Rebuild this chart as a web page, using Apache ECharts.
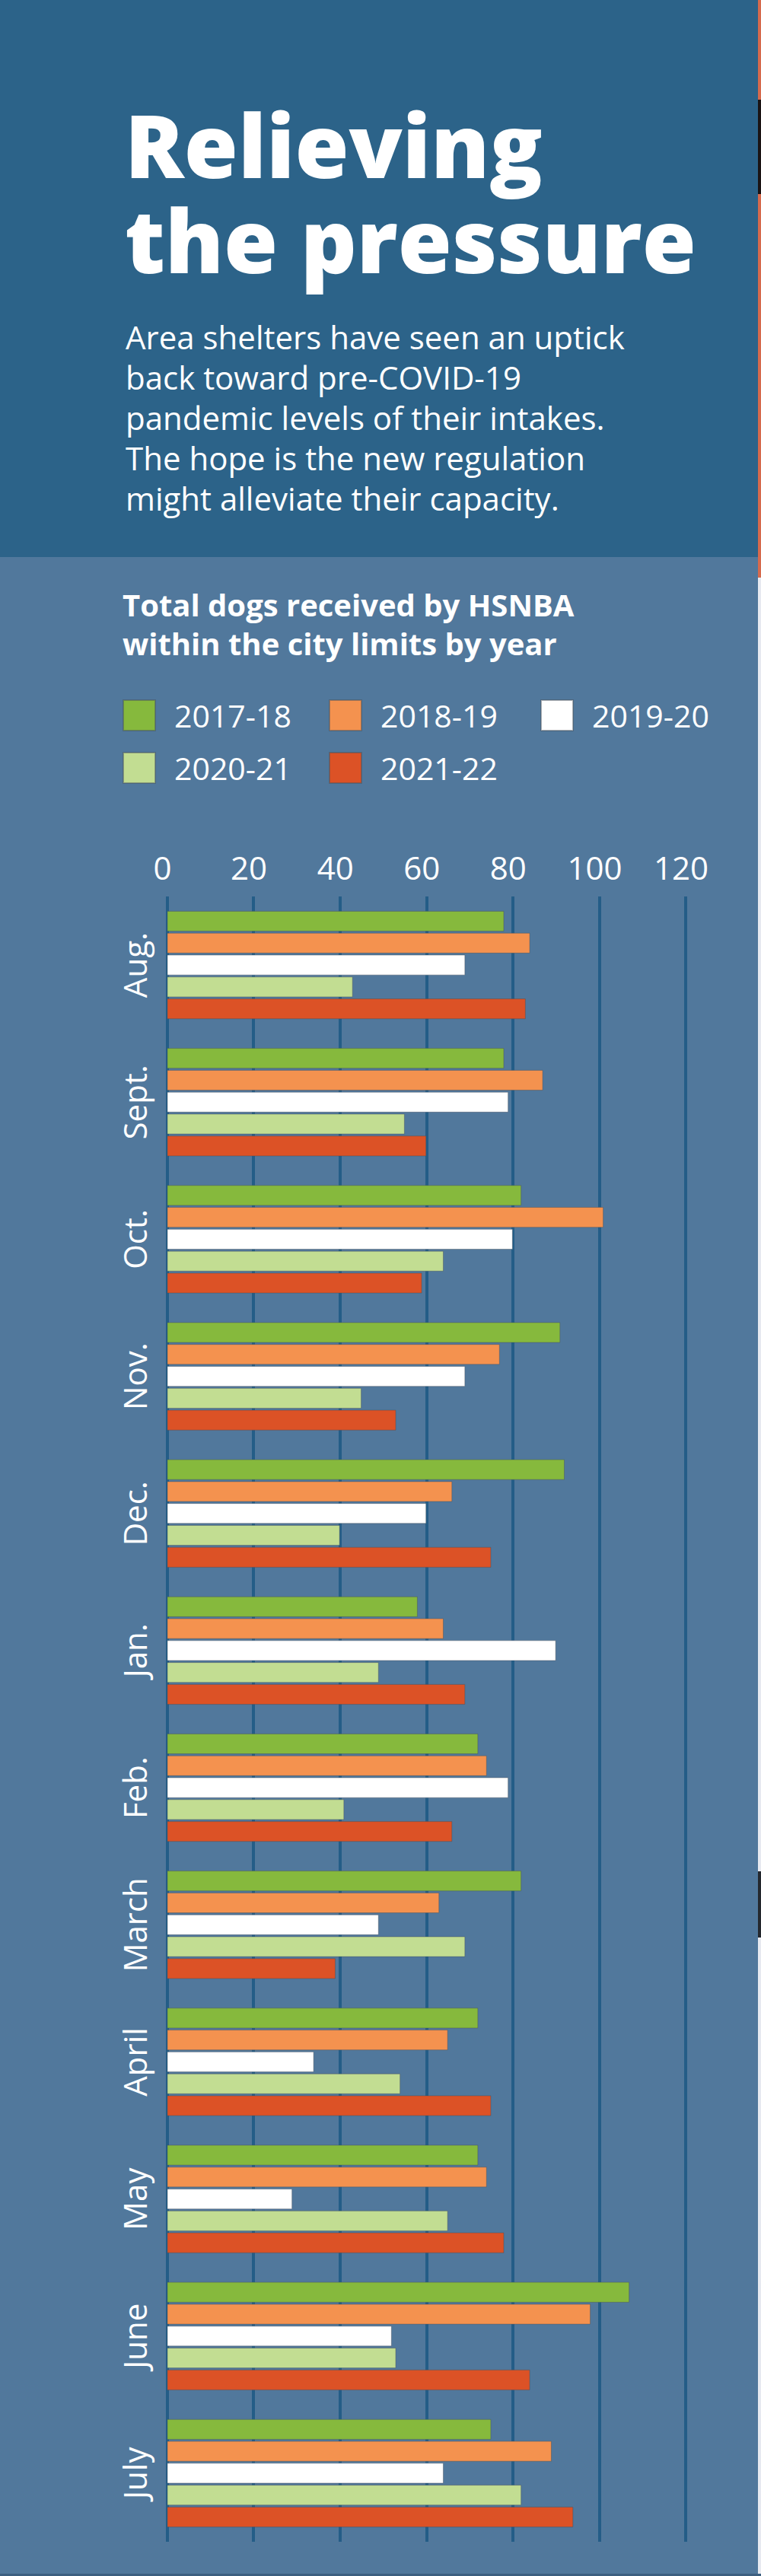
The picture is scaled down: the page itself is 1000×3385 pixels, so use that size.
<!DOCTYPE html>
<html>
<head>
<meta charset="utf-8">
<title>Relieving the pressure</title>
<script src="https://cdn.jsdelivr.net/npm/echarts@6/dist/echarts.min.js"></script>
<style>
  html, body { margin: 0; padding: 0; background: #51789c; overflow: hidden; }
  #chart { width: 1000px; height: 3385px; }
</style>
</head>
<body>
<div id="chart"></div>
<script>
// months, top to bottom
var months = ['Aug.', 'Sept.', 'Oct.', 'Nov.', 'Dec.', 'Jan.', 'Feb.', 'March', 'April', 'May', 'June', 'July'];

// dogs received, per fiscal year
var y1718 = [78, 78, 82, 91, 92, 58, 72, 82, 72, 72, 107, 75];
var y1819 = [84, 87, 101, 77, 66, 64, 74, 63, 65, 74, 98, 89];
var y1920 = [69, 79, 80, 69, 60, 90, 79, 49, 34, 29, 52, 64];
var y2021 = [43, 55, 64, 45, 40, 49, 41, 69, 54, 65, 53, 82];
var y2122 = [83, 60, 59, 53, 75, 69, 66, 39, 75, 78, 84, 94];

var seriesNames = ['2017-18', '2018-19', '2019-20', '2020-21', '2021-22'];
var seriesColors = ['#86b93d', '#f4924f', '#ffffff', '#c2dd92', '#dc5226'];

var xMin = 0;
var xMax = 120;
var xStep = 20;

var FONT = '"Open Sans", "Noto Sans", sans-serif';

var chart = echarts.init(document.getElementById('chart'), null, { renderer: 'svg' });

var values = [y1718, y1819, y1920, y2021, y2122];
var series = values.map(function (v, i) {
  return {
    name: seriesNames[i],
    type: 'bar',
    data: v,
    barGap: '6%',
    barCategoryGap: '21%',
    itemStyle: {
      color: seriesColors[i],
      borderColor: 'rgba(70, 80, 90, 0.45)',
      borderWidth: 1
    },
    emphasis: { disabled: true },
    animation: false
  };
});

// one legend per entry so each swatch lands where the print put it
var legendSpots = [
  { left: 161, top: 919 },
  { left: 432, top: 919 },
  { left: 710, top: 919 },
  { left: 161, top: 988 },
  { left: 432, top: 988 }
];
var legends = legendSpots.map(function (p, i) {
  return {
    data: [seriesNames[i]],
    left: p.left,
    top: p.top,
    padding: 0,
    icon: 'rect',
    itemWidth: 42,
    itemHeight: 40,
    selectedMode: false,
    textStyle: {
      color: '#ffffff',
      fontSize: 41,
      fontFamily: FONT,
      padding: [0, 0, 0, 20]
    }
  };
});

var headline = {
  color: '#ffffff',
  fontFamily: FONT,
  fontWeight: 800,
  fontSize: 115,
  lineHeight: 125
};

var option = {
  backgroundColor: '#51789c',
  animation: false,
  graphic: [
    // top panel
    { type: 'rect', z: -10, shape: { x: 0, y: 0, width: 996, height: 732 }, style: { fill: '#2c6389' } },
    // right edge strip
    { type: 'rect', z: -10, shape: { x: 996, y: 0, width: 4, height: 759 }, style: { fill: '#d66a4d' } },
    { type: 'rect', z: -10, shape: { x: 996, y: 759, width: 4, height: 2626 }, style: { fill: '#e7e9f0' } },
    { type: 'rect', z: -9, shape: { x: 996, y: 131, width: 4, height: 124 }, style: { fill: '#1b1414' } },
    { type: 'rect', z: -9, shape: { x: 996, y: 2459, width: 4, height: 87 }, style: { fill: '#24282e' } },
    // bottom edge
    { type: 'rect', z: -9, shape: { x: 0, y: 3382, width: 1000, height: 3 }, style: { fill: '#3d5f80' } }
  ],
  title: [
    { text: 'Relieving', left: 164, top: 127, padding: 0, textStyle: headline },
    { text: 'the pressure', left: 164, top: 252, padding: 0, textStyle: headline },
    {
      text: 'Area shelters have seen an uptick\nback toward pre-COVID-19\npandemic levels of their intakes.\nThe hope is the new regulation\nmight alleviate their capacity.',
      left: 165,
      top: 416,
      padding: 0,
      textStyle: {
        color: '#ffffff',
        fontFamily: FONT,
        fontWeight: 'normal',
        fontSize: 42,
        lineHeight: 53
      }
    },
    {
      text: 'Total dogs received by HSNBA\nwithin the city limits by year',
      left: 161,
      top: 769,
      padding: 0,
      textStyle: {
        color: '#ffffff',
        fontFamily: FONT,
        fontWeight: 'bold',
        fontSize: 40,
        lineHeight: 51
      }
    }
  ],
  legend: legends,
  grid: {
    left: 219.5,
    right: 99,
    top: 1178,
    height: 2162,
    containLabel: false
  },
  xAxis: {
    type: 'value',
    position: 'top',
    min: xMin,
    max: xMax,
    interval: xStep,
    axisLine: { show: false },
    axisTick: { show: false },
    splitLine: { show: true, lineStyle: { color: '#245d87', width: 4 } },
    axisLabel: {
      color: '#ffffff',
      fontFamily: FONT,
      fontSize: 42,
      margin: 18,
      padding: [0, 12, 0, 0]
    }
  },
  yAxis: {
    type: 'category',
    data: months,
    inverse: true,
    axisLine: { show: false },
    axisTick: { show: false },
    splitLine: { show: false },
    axisLabel: {
      color: '#ffffff',
      fontFamily: FONT,
      fontSize: 42,
      rotate: 90,
      margin: 22
    }
  },
  series: series
};

chart.setOption(option);
</script>
</body>
</html>
